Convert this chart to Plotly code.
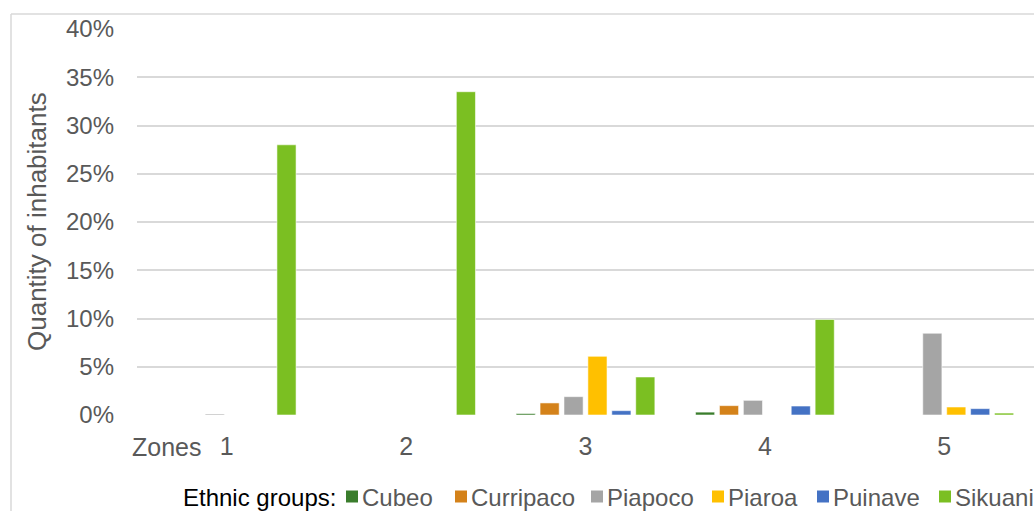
import plotly.graph_objects as go

zones = ["1", "2", "3", "4", "5"]
groups = ["Cubeo", "Curripaco", "Piapoco", "Piaroa", "Puinave", "Sikuani"]
colors = ["#3A7D2C", "#D4821A", "#A5A5A5", "#FFC000", "#4472C4", "#7BBF22"]

cubeo     = [0.000, 0.000, 0.0015, 0.003, 0.000]
curripaco = [0.000, 0.000, 0.0125, 0.0097, 0.000]
piapoco   = [0.001, 0.000, 0.019, 0.0152, 0.0847]
piaroa    = [0.000, 0.000, 0.0608, 0.000, 0.0083]
puinave   = [0.000, 0.000, 0.0045, 0.0093, 0.0066]
sikuani   = [0.280, 0.335, 0.0394, 0.099, 0.002]
series = [cubeo, curripaco, piapoco, piaroa, puinave, sikuani]

y_ticks = [0, 0.05, 0.10, 0.15, 0.20, 0.25, 0.30, 0.35, 0.40]

# layout (pixel) helpers
W, H = 1034, 511
L, R, T, B = 137, 0, 29, 96
pw, ph = W - L - R, H - T - B

def px(x):
    return (x - L) / pw

def py(y):
    return (H - B - y) / ph

FONT = "Liberation Sans, Arial, sans-serif"
GRAY = "#595959"

# legend entry placement (left edge of swatch, px)
legend_left = [346, 455, 591, 712, 817, 939]
legend_cy = 497
sw = 12

fig = go.Figure()
for name, vals, col in zip(groups, series, colors):
    fig.add_trace(go.Bar(
        x=zones, y=vals, name=name, showlegend=False,
        marker=dict(color=col, line=dict(color="rgba(255,255,255,0.7)", width=0.8)),
    ))

annotations = [
    dict(text="Quantity of inhabitants", textangle=-90, xref="paper", yref="paper",
         x=px(37), y=0.5, xanchor="center", yanchor="middle", showarrow=False,
         font=dict(size=26, color=GRAY)),
    dict(text="Zones", xref="paper", yref="paper", x=px(130), y=py(447),
         xanchor="left", yanchor="middle", showarrow=False,
         font=dict(size=25, color=GRAY)),
    dict(text="Ethnic groups:", xref="paper", yref="paper", x=px(181), y=py(legend_cy),
         xanchor="left", yanchor="middle", showarrow=False,
         font=dict(size=24, color="black")),
]
shapes = [
    dict(type="line", xref="paper", yref="paper", x0=px(11), x1=px(11),
         y0=py(14), y1=py(520), line=dict(color="#D9D9D9", width=1.5)),
    dict(type="line", xref="paper", yref="paper", x0=px(11), x1=px(1040),
         y0=py(14), y1=py(14), line=dict(color="#D9D9D9", width=1.5)),
]
for name, col, lx in zip(groups, colors, legend_left):
    shapes.append(dict(type="rect", xref="paper", yref="paper",
                       x0=px(lx), x1=px(lx + sw), y0=py(legend_cy - sw / 2 - 0.5),
                       y1=py(legend_cy + sw / 2 - 0.5),
                       fillcolor=col, line=dict(width=0)))
    annotations.append(dict(text=name, xref="paper", yref="paper", x=px(lx + sw + 2),
                            y=py(legend_cy), xanchor="left", yanchor="middle",
                            showarrow=False, font=dict(size=24, color=GRAY)))

fig.update_layout(
    width=W, height=H,
    margin=dict(l=L, r=R, t=T, b=B, pad=0),
    paper_bgcolor="white", plot_bgcolor="white",
    barmode="group", bargap=0.2, bargroupgap=0.2,
    font=dict(family=FONT, size=24, color=GRAY),
    showlegend=False,
    xaxis=dict(
        showgrid=False, showline=False, zeroline=False, ticks="",
        tickfont=dict(size=25, color=GRAY), ticklabelstandoff=14,
    ),
    yaxis=dict(
        range=[0, 0.4], tickvals=y_ticks, tickformat=".0%",
        showgrid=True, gridcolor="#D9D9D9", gridwidth=1.5,
        zeroline=False, showline=False, ticks="",
        tickfont=dict(size=24, color=GRAY), ticklabelstandoff=22,
    ),
    annotations=annotations,
    shapes=shapes,
)

fig.write_html("out.html")
